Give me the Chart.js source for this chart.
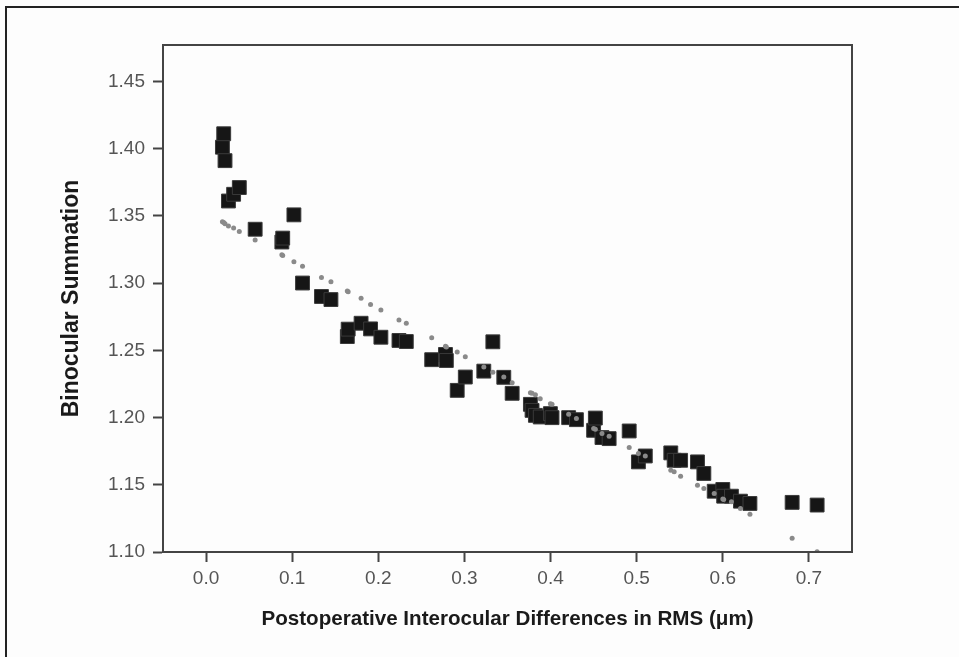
<!DOCTYPE html>
<html>
<head>
<meta charset="utf-8">
<script src="https://cdn.jsdelivr.net/npm/chart.js@4/dist/chart.umd.min.js"></script>
<style>
  html, body { margin: 0; padding: 0; background: #fff; }
  #wrap { position: relative; width: 959px; height: 657px; }
</style>
</head>
<body>
<div id="wrap"><canvas id="summation_chart" width="959" height="657"></canvas></div>
<script>
// interocular RMS difference (um) for each eye pair
var rmsDiff = [0.019, 0.0205, 0.022, 0.026, 0.032, 0.0386, 0.057, 0.088, 0.089, 0.102,
  0.112, 0.134, 0.145, 0.164, 0.165, 0.180, 0.191, 0.203, 0.224, 0.2325,
  0.262, 0.278, 0.279, 0.2916, 0.301, 0.3225, 0.333, 0.3457, 0.3554, 0.3766,
  0.3785, 0.3824, 0.388, 0.3998, 0.4017, 0.421, 0.430, 0.450, 0.452, 0.4597,
  0.468, 0.4913, 0.502, 0.510, 0.5396, 0.5435, 0.551, 0.5706, 0.578, 0.590,
  0.600, 0.601, 0.610, 0.6205, 0.6315, 0.6805, 0.7095];

// measured binocular summation
var summation = [1.401, 1.411, 1.391, 1.361, 1.366, 1.371, 1.340, 1.3305, 1.3334, 1.3507,
  1.300, 1.290, 1.2877, 1.2602, 1.2657, 1.2701, 1.2659, 1.2597, 1.2573, 1.2565,
  1.243, 1.2469, 1.2424, 1.2202, 1.2301, 1.2345, 1.2563, 1.2299, 1.218, 1.2098,
  1.2053, 1.2016, 1.2004, 1.2029, 1.1999, 1.1999, 1.1984, 1.1905, 1.1996, 1.1851,
  1.1843, 1.190, 1.167, 1.1714, 1.1737, 1.1682, 1.1682, 1.167, 1.1584, 1.1452,
  1.1465, 1.1415, 1.1415, 1.1378, 1.1361, 1.1369, 1.1349];

// fitted values (dotted curve), one per measured point
var fitted = [1.3456, 1.3450, 1.3440, 1.3425, 1.3409, 1.3384, 1.332, 1.321, 1.3205, 1.3159,
  1.3124, 1.3042, 1.301, 1.2941, 1.2936, 1.2887, 1.284, 1.280, 1.2726, 1.2701,
  1.2593, 1.253, 1.2525, 1.2488, 1.2452, 1.2375, 1.2337, 1.2301, 1.2259, 1.2185,
  1.2180, 1.217, 1.214, 1.2102, 1.2098, 1.2024, 1.1992, 1.1918, 1.1912, 1.1881,
  1.186, 1.1777, 1.1732, 1.1714, 1.1608, 1.1596, 1.1564, 1.1497, 1.1473, 1.1435,
  1.1395, 1.1391, 1.1373, 1.1324, 1.128, 1.1102, 1.1002];

var xTicks = [0.0, 0.1, 0.2, 0.3, 0.4, 0.5, 0.6, 0.7];
var yTicks = [1.10, 1.15, 1.20, 1.25, 1.30, 1.35, 1.40, 1.45];

function pairs(xs, ys) {
  var out = [];
  for (var i = 0; i < xs.length; i++) {
    out.push({x: xs[i], y: ys[i]});
  }
  return out;
}

// page frame + box round the plot area
var framePlugin = {
  id: 'frames',
  beforeDraw: function(chart) {
    var ctx = chart.ctx;
    ctx.save();
    ctx.fillStyle = '#fdfdfd';
    ctx.fillRect(0, 0, chart.width, chart.height);
    ctx.strokeStyle = '#222';
    ctx.lineWidth = 2;
    ctx.beginPath();
    ctx.moveTo(6, chart.height);
    ctx.lineTo(6, 7);
    ctx.lineTo(chart.width, 7);
    ctx.stroke();
    ctx.restore();
  },
  afterDraw: function(chart) {
    var a = chart.chartArea, ctx = chart.ctx;
    ctx.save();
    ctx.strokeStyle = '#444';
    ctx.lineWidth = 2;
    ctx.strokeRect(a.left, a.top, a.right - a.left, a.bottom - a.top);
    ctx.restore();
  }
};

var tickFont = {family: '"Liberation Sans", Arial, sans-serif', size: 19};

var ctx = document.getElementById('summation_chart');
var myChart = new Chart(ctx, {
  type: 'scatter',
  data: {
    datasets: [{
      label: 'Fit',
      data: pairs(rmsDiff, fitted),
      order: 0,
      pointStyle: 'circle',
      pointRadius: 2.5,
      backgroundColor: '#8a8a8a',
      borderColor: '#8a8a8a',
      borderWidth: 0
    }, {
      label: 'Binocular summation',
      data: pairs(rmsDiff, summation),
      order: 1,
      pointStyle: 'rect',
      pointRadius: 9.8,
      backgroundColor: '#161616',
      borderColor: '#3a3a3a',
      borderWidth: 1
    }]
  },
  options: {
    responsive: false,
    devicePixelRatio: 1,
    animation: false,
    layout: {padding: {left: 0, top: 45, right: 107, bottom: 0}},
    plugins: {legend: {display: false}, tooltip: {enabled: false}},
    scales: {
      x: {
        type: 'linear',
        min: -0.05,
        max: 0.75,
        afterBuildTicks: function(s) { s.ticks = xTicks.map(function(v) { return {value: v}; }); },
        afterFit: function(s) { s.height = 105; },
        ticks: {
          color: '#555',
          font: tickFont,
          padding: 5,
          maxRotation: 0,
          callback: function(v) { return v.toFixed(1); }
        },
        grid: {drawOnChartArea: false, drawTicks: true, tickLength: 10, tickWidth: 2, tickColor: '#444'},
        border: {display: true, color: '#444', width: 2},
        title: {
          display: true,
          text: 'Postoperative Interocular Differences in RMS (\u03bcm)',
          color: '#1a1a1a',
          font: {family: '"Liberation Sans", Arial, sans-serif', size: 20.6, weight: 'bold'},
          padding: {top: 0, bottom: 25}
        }
      },
      y: {
        type: 'linear',
        min: 1.10,
        max: 1.477,
        afterBuildTicks: function(s) { s.ticks = yTicks.map(function(v) { return {value: v}; }); },
        afterFit: function(s) { s.width = 163; },
        ticks: {
          color: '#555',
          font: tickFont,
          padding: 8,
          callback: function(v) { return v.toFixed(2); }
        },
        grid: {drawOnChartArea: false, drawTicks: true, tickLength: 10, tickWidth: 2, tickColor: '#444'},
        border: {display: true, color: '#444', width: 2},
        title: {
          display: true,
          text: 'Binocular Summation',
          color: '#1a1a1a',
          font: {family: '"Liberation Sans", Arial, sans-serif', size: 23, weight: 'bold'},
          padding: {top: 58, bottom: 0}
        }
      }
    }
  },
  plugins: [framePlugin]
});
</script>
</body>
</html>
